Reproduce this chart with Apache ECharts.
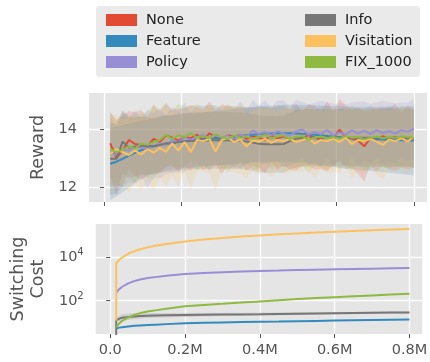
<!DOCTYPE html>
<html><head><meta charset="utf-8">
<script src="https://cdn.jsdelivr.net/npm/echarts@6/dist/echarts.min.js"></script>
<style>html,body{margin:0;padding:0;background:#fff}#c{width:430px;height:362px}</style>
</head><body><div id="c"></div>
<script>
const FONT = 'DejaVu Sans';
const seriesNames = ['None','Feature','Policy','Info','Visitation','FIX_1000'];
const seriesColors = ['#E24A33','#348ABD','#988ED5','#777777','#FBC15E','#8EBA42'];
const bandOrder = [0, 5, 1, 2, 3, 4];
const xTicks = [0, 200000, 400000, 600000, 800000];
const rewardTicks = [12, 14];
const costTicks = [2, 4]; // exponents: 10^2, 10^4

const steps = [16000,32000,48000,64000,80000,96000,112000,128000,144000,160000,176000,192000,208000,224000,240000,256000,272000,288000,304000,320000,336000,352000,368000,384000,400000,416000,432000,448000,464000,480000,496000,512000,528000,544000,560000,576000,592000,608000,624000,640000,656000,672000,688000,704000,720000,736000,752000,768000,784000,800000];

const rewardNone = [13.50,13.00,13.25,13.62,13.48,13.45,13.40,13.66,13.55,13.78,13.70,13.60,13.72,13.68,13.80,13.62,13.85,13.70,13.65,13.78,13.72,13.80,13.66,13.74,13.70,13.62,13.78,13.68,13.75,13.64,13.72,13.66,13.80,13.70,13.62,13.74,13.68,13.98,13.72,13.66,13.60,13.40,13.70,13.62,13.75,13.66,13.72,13.62,13.70,13.66];
const rewardFeature = [12.80,12.87,12.97,13.08,13.18,13.27,13.34,13.40,13.45,13.50,13.53,13.56,13.58,13.60,13.62,13.64,13.66,13.68,13.70,13.72,13.74,13.76,13.78,13.80,13.82,13.83,13.84,13.85,13.85,13.85,13.84,13.83,13.82,13.80,13.78,13.76,13.74,13.72,13.70,13.69,13.68,13.67,13.66,13.65,13.64,13.63,13.62,13.61,13.60,13.60];
const rewardPolicy = [13.20,13.10,13.30,13.25,13.40,13.35,13.30,13.42,13.50,13.45,13.62,13.55,13.70,13.62,13.72,13.80,13.68,13.78,13.70,13.76,13.66,13.80,13.72,13.95,13.82,13.90,13.78,13.92,13.84,13.76,13.92,13.98,13.80,13.90,13.82,13.96,13.78,13.88,13.80,13.96,13.84,13.94,13.82,13.96,13.86,13.92,13.84,13.96,13.90,14.00];
const rewardInfo = [12.97,12.97,13.56,13.36,13.38,13.42,13.42,13.40,13.45,13.50,13.50,13.55,13.57,13.58,13.60,13.60,13.60,13.61,13.61,13.61,13.60,13.60,13.57,13.53,13.49,13.47,13.47,13.47,13.48,13.58,13.66,13.69,13.70,13.70,13.70,13.70,13.70,13.70,13.70,13.70,13.70,13.70,13.70,13.70,13.70,13.70,13.70,13.70,13.70,13.70];
const rewardVisitation = [13.15,13.30,13.20,13.10,13.25,13.12,13.30,13.18,13.35,13.22,13.50,13.25,13.55,13.20,13.62,13.58,13.66,13.22,13.62,13.70,13.55,13.64,13.40,13.60,13.56,13.66,13.52,13.62,13.58,13.66,13.55,13.62,13.68,13.50,13.62,13.58,13.66,13.55,13.70,13.48,13.62,13.58,13.66,13.56,13.45,13.64,13.58,13.68,13.56,13.74];
const rewardFix = [13.30,13.20,13.28,13.40,13.32,13.50,13.45,13.55,13.62,13.80,13.65,13.78,13.72,13.85,13.70,13.76,13.68,13.82,13.72,13.66,13.78,13.70,13.75,13.66,13.72,13.80,13.68,13.74,13.78,13.66,13.72,13.76,13.62,13.70,13.74,13.68,13.72,13.66,13.76,13.70,13.72,13.64,13.70,13.74,13.68,13.72,13.70,13.74,13.72,13.70];

const stdNone = [1.10,1.30,1.20,1.00,1.10,1.20,1.00,1.15,1.05,1.10,0.95,1.10,1.00,1.15,0.95,1.05,1.10,0.95,1.20,1.00,1.05,0.95,1.10,1.00,1.05,1.15,0.95,1.10,1.00,1.05,1.15,0.95,1.05,1.10,1.00,1.20,0.95,1.05,1.10,1.00,1.15,1.20,0.95,1.10,1.00,1.05,1.15,0.95,1.10,1.00];
const stdFeature = [1.25,1.20,1.15,1.10,1.05,1.00,0.98,0.96,0.95,0.94,0.93,0.93,0.93,0.93,0.93,0.93,0.94,0.94,0.94,0.95,0.95,0.95,0.96,0.96,0.96,0.97,0.97,0.98,0.98,0.99,1.00,1.00,1.01,1.02,1.03,1.04,1.05,1.06,1.07,1.08,1.09,1.10,1.11,1.12,1.13,1.14,1.15,1.16,1.18,1.20];
const stdPolicy = [1.20,1.00,1.30,1.10,1.25,1.00,1.35,1.10,1.20,1.00,1.15,1.05,1.20,0.95,1.10,1.00,1.15,1.05,0.95,1.10,1.00,1.15,0.95,1.05,1.00,1.10,0.95,1.05,1.15,1.00,1.10,0.95,1.05,1.00,1.15,0.95,1.10,1.00,1.05,0.95,1.10,1.00,1.05,0.95,1.10,1.00,1.05,0.95,1.00,1.05];
const stdInfo = [1.25,1.20,1.10,1.05,1.02,1.00,0.99,0.98,0.98,0.98,0.98,0.98,0.98,0.98,0.98,0.98,0.98,0.98,0.98,0.98,0.98,0.98,0.98,0.98,0.98,0.98,0.98,0.98,0.98,0.98,0.99,0.99,0.99,0.99,0.99,0.99,0.99,0.99,0.99,0.99,1.00,1.00,1.00,1.00,1.00,1.00,1.00,1.00,1.00,1.00];
const stdVisitation = [1.30,1.20,1.10,1.30,1.15,1.25,1.10,1.30,1.05,1.20,1.10,1.25,1.00,1.30,1.10,1.05,1.20,1.35,1.00,1.15,1.05,1.20,1.10,1.00,1.15,1.05,1.20,1.00,1.10,1.15,1.00,1.10,1.05,1.20,1.00,1.10,1.15,1.05,1.00,1.20,1.05,1.10,1.00,1.15,1.20,1.00,1.10,1.05,1.15,1.00];
const stdFix = [1.25,1.10,1.30,1.05,1.20,1.00,1.15,1.30,1.05,1.10,0.95,1.10,1.05,0.95,1.15,1.00,1.10,0.95,1.05,1.15,1.00,1.10,0.95,1.05,1.10,0.95,1.05,1.00,1.10,0.95,1.05,1.00,1.15,0.95,1.05,1.10,0.95,1.05,1.00,1.10,0.95,1.05,1.10,0.95,1.00,1.10,0.95,1.05,1.00,1.05];

const costSteps = [16000,16000,24000,32000,48000,64000,80000,100000,120000,150000,200000,250000,300000,350000,400000,450000,500000,550000,600000,650000,700000,750000,800000];
const costFeature = [5.3,5.3,5.8,6.1,6.6,7.0,7.3,7.6,7.9,8.4,9.2,9.7,10.1,10.4,10.7,11.0,11.4,11.8,12.2,12.6,13.0,13.4,13.8];
const costPolicy = [235,235,340,440,630,800,950,1100,1220,1400,1700,1900,2050,2200,2340,2450,2570,2680,2800,2900,3000,3100,3200];
const costInfo = [2,12.6,15,16.5,18,19,20,20.5,21,21.5,22,22.5,23,23.5,24,24.7,25.3,26,26.6,27.2,27.8,28.4,29];
const costInfoLow = [2,11,11.5,12,13,14,15,16,16.5,17,18,19,20,20.5,21,21.7,22.3,23,23.5,24,24.6,25.2,25.8];
const costInfoHigh = [2,14,21,24,26,27,27.5,27.5,27.5,27.5,27.5,27.8,28,28.3,28.6,29,29.4,29.8,30.2,30.6,31,31.4,31.8];
const costVisitation = [12,5200,7500,9800,14500,19000,23500,28500,33500,41000,53000,65000,77000,89000,100000,113000,125000,138000,150000,163000,176000,188000,200000];
const costFix = [6,6,9,12,17,22,27,32,36,43,56,64,72,82,93,106,119,132,145,160,176,192,210];

const rewardMeans = [rewardNone, rewardFeature, rewardPolicy, rewardInfo, rewardVisitation, rewardFix];
const rewardStds = [stdNone, stdFeature, stdPolicy, stdInfo, stdVisitation, stdFix];
const costData = [null, costFeature, costPolicy, costInfo, costVisitation, costFix];

// band drawn as one polygon through the axes' own scales (api.coord)
function bandSeries(xs, lows, highs, color, xi, yi, alpha) {
  return {
    type:'custom', xAxisIndex:xi, yAxisIndex:yi, silent:true, z:2,
    data:[[xs[0], lows[0]]],
    renderItem: function (params, api) {
      const pts = [];
      for (let k = 0; k < xs.length; k++) pts.push(api.coord([xs[k], highs[k]]));
      for (let k = xs.length - 1; k >= 0; k--) pts.push(api.coord([xs[k], lows[k]]));
      const cs = params.coordSys;
      return {
        type:'polygon', shape:{points:pts},
        style:{fill:color, opacity:alpha, stroke:null},
        clipPath:{type:'rect', shape:{x:cs.x, y:cs.y, width:cs.width, height:cs.height}}
      };
    }
  };
}

const series = [];
bandOrder.forEach(i => {
  const m = rewardMeans[i], sd = rewardStds[i];
  series.push(bandSeries(steps, m.map((v,k)=>v - sd[k]), m.map((v,k)=>v + sd[k]), seriesColors[i], 0, 0, 0.18));
});
rewardMeans.forEach((m, i) => {
  series.push({
    name: seriesNames[i], type:'line', xAxisIndex:0, yAxisIndex:0, symbol:'none', z:3,
    color: seriesColors[i], lineStyle:{width:2, color:seriesColors[i]},
    data: steps.map((x,k)=>[x, m[k]])
  });
});
series.push(bandSeries(costSteps, costInfoLow.map(v=>Math.log10(v)), costInfoHigh.map(v=>Math.log10(v)), '#777777', 1, 1, 0.2));
costData.forEach((c, i) => {
  if (!c) return;
  series.push({
    name: seriesNames[i], type:'line', xAxisIndex:1, yAxisIndex:1, symbol:'none', z:3,
    color: seriesColors[i], lineStyle:{width:2, color:seriesColors[i]},
    data: costSteps.map((x,k)=>[x, Math.log10(c[k])])
  });
});

const tickStyle = {show:true, length:4, lineStyle:{color:'#555', width:1}};
const labelStyle = {fontSize:14.5, color:'#555', fontFamily:FONT};
const xFmt = v => v === 0 ? '0.0' : (v/1e6).toFixed(1) + 'M';

const option = {
  animation:false,
  backgroundColor:'#ffffff',
  textStyle:{fontFamily:FONT},
  graphic:[{type:'rect', left:96, top:6, shape:{width:324, height:71, r:3}, style:{fill:'#EAEAEA'}, z:-1, silent:true}],
  legend:[
    {left:101, top:7, orient:'vertical', itemWidth:31, itemHeight:12, itemGap:5, icon:'rect', selectedMode:false,
     data:['None','Feature','Policy'], textStyle:{fontSize:14.5, lineHeight:16, color:'#222', fontFamily:FONT, padding:[0,0,0,4]}},
    {left:300, top:7, orient:'vertical', itemWidth:31, itemHeight:12, itemGap:5, icon:'rect', selectedMode:false,
     data:['Info','Visitation','FIX_1000'], textStyle:{fontSize:14.5, lineHeight:16, color:'#222', fontFamily:FONT, padding:[0,0,0,4]}}
  ],
  grid:[
    {left:89, right:3, top:93, height:109, show:true, backgroundColor:'#E5E5E5', borderWidth:0},
    {left:89, right:3, top:224, height:110, show:true, backgroundColor:'#E5E5E5', borderWidth:0}
  ],
  xAxis:[
    {type:'value', gridIndex:0, min:-38800, max:834000, axisLine:{show:false},
     axisTick:Object.assign({customValues:xTicks}, tickStyle),
     axisLabel:{show:false, customValues:xTicks},
     splitLine:{show:true, lineStyle:{color:'#ffffff', width:1.3}}},
    {type:'value', gridIndex:1, min:-38800, max:834000, axisLine:{show:false},
     axisTick:Object.assign({customValues:xTicks}, tickStyle),
     axisLabel:Object.assign({customValues:xTicks, margin:9, formatter:xFmt}, labelStyle),
     splitLine:{show:true, lineStyle:{color:'#ffffff', width:1.3}}}
  ],
  yAxis:[
    {type:'value', gridIndex:0, min:11.48, max:15.24, axisLine:{show:false},
     name:'Reward', nameLocation:'middle', nameRotate:90, nameGap:35,
     nameTextStyle:{fontSize:17.5, color:'#555', fontFamily:FONT},
     axisTick:Object.assign({customValues:rewardTicks}, tickStyle),
     axisLabel:Object.assign({customValues:rewardTicks, margin:12}, labelStyle),
     splitLine:{show:true, lineStyle:{color:'#ffffff', width:1.3}}},
    {type:'value', gridIndex:1, min:0.47, max:5.53, axisLine:{show:false},
     name:'Switching\nCost', nameLocation:'middle', nameRotate:90, nameGap:44,
     nameTextStyle:{fontSize:17.5, lineHeight:20, color:'#555', fontFamily:FONT},
     axisTick:Object.assign({customValues:costTicks}, tickStyle),
     axisLabel:{customValues:costTicks, margin:12, color:'#555', fontFamily:FONT,
       formatter: v => '{b|10}{s|' + Math.round(v) + '}',
       rich:{b:{fontSize:14.5, color:'#555', fontFamily:FONT}, s:{fontSize:10, color:'#555', fontFamily:FONT, padding:[0,0,9,0]}}},
     splitLine:{show:true, lineStyle:{color:'#ffffff', width:1.3}}}
  ],
  series: series
};
const chart = echarts.init(document.getElementById('c'), null, {renderer:'canvas'});
chart.setOption(option);
</script></body></html>
